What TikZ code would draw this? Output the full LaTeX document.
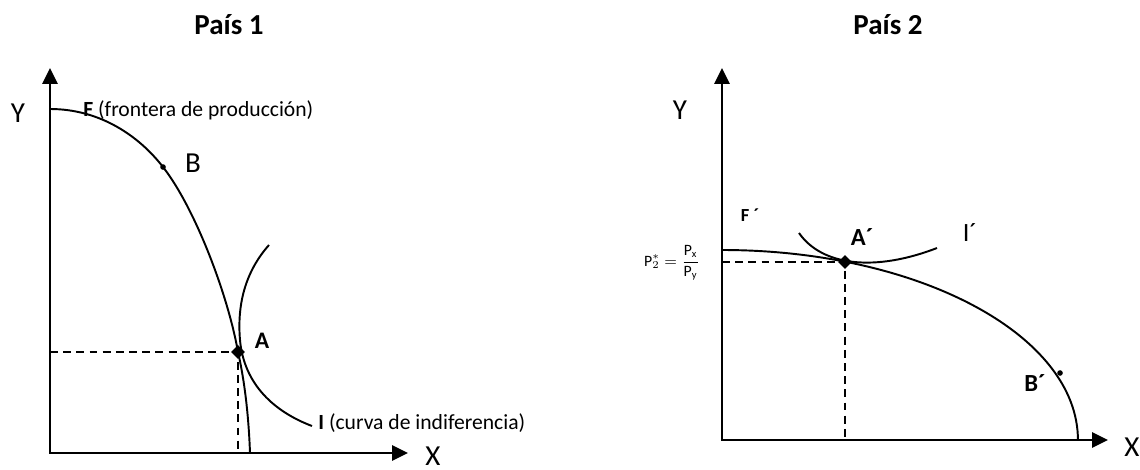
\documentclass[tikz,border=0pt]{standalone}
\usepackage{amsmath}
\usepackage{fontspec}
\setmainfont{Carlito}
\usetikzlibrary{arrows.meta,shapes.geometric}

\begin{document}
\begin{tikzpicture}[x=0.02cm, y=-0.02cm,
  axis/.style={line width=1.5pt, {Triangle[width=8.5pt, length=9pt]}-{Triangle[width=8.5pt, length=9pt]}},
  curve/.style={line width=1.1pt},
  guide/.style={line width=1.1pt, dash pattern=on 4.5pt off 3pt},
  optv/.style={diamond, fill=black, inner sep=0pt, minimum size=8pt},
  dotv/.style={circle, fill=black, inner sep=0pt, minimum size=3.2pt},
  ttl/.style={font=\bfseries\fontsize{16.5}{18}\selectfont},
  axlbl/.style={font=\fontsize{16.5}{18}\selectfont, inner sep=0pt},
  lbl/.style={font=\fontsize{12.3}{14}\selectfont, anchor=west, inner sep=0pt},
  ptlbl/.style={font=\bfseries\fontsize{14}{16}\selectfont}
]
\useasboundingbox (0,0) rectangle (1140,470);

% País 1
\coordinate (o1) at (50,453);
\coordinate (y1) at (50,68);
\coordinate (x1) at (408,453);
\coordinate (f1s) at (50,109);
\coordinate (f1e) at (250,453);
\coordinate (pB1) at (163,167);
\coordinate (pA1) at (238,352);
\coordinate (ya1) at (50,352);
\coordinate (xa1) at (238,453);
\coordinate (i1s) at (269,245);
\coordinate (i1e) at (312,426);

\draw[axis] (y1) -- (o1) -- (x1);
\draw[curve] (f1s) .. controls (100,109) and (139,136) .. (pB1)
  .. controls (195,208) and (228,295) .. (pA1)
  .. controls (246,387) and (249,425) .. (f1e);
\draw[curve] (i1s) .. controls (245,272) and (237,305) .. (240,340)
  .. controls (244,385) and (275,412) .. (i1e);
\draw[guide] (ya1) -- (pA1) -- (xa1);
\node[optv] (A1) at (pA1) {};
\node[dotv] (B1) at (pB1) {};

\node[ttl] (t1) at (229,25) {País 1};
\node[axlbl] (ly1) at (18,113) {Y};
\node[axlbl] (lx1) at (433,456) {X};
\node[lbl] (lf1) at (83,110) {\textbf{F} (frontera de producción)};
\node[axlbl] (lb1) at (193,163) {B};
\node[font=\bfseries\fontsize{13.5}{15}\selectfont] (la1) at (262,341) {A};
\node[lbl] (li1) at (318,423) {\textbf{I} (curva de indiferencia)};

% País 2
\coordinate (o2) at (722,440);
\coordinate (y2) at (722,68);
\coordinate (x2) at (1108,440);
\coordinate (f2s) at (722,250);
\coordinate (pA2) at (845,262);
\coordinate (pB2) at (1060,373);
\coordinate (ya2) at (722,262);
\coordinate (xa2) at (845,440);
\coordinate (i2s) at (799,233);
\coordinate (i2e) at (937,248);

\draw[axis] (y2) -- (o2) -- (x2);
\draw[curve] (f2s) arc[start angle=90, end angle=0, x radius=7.12cm, y radius=3.8cm];
\draw[curve] (i2s) .. controls (822,266) and (875,272) .. (i2e);
\draw[guide] (ya2) -- (pA2) -- (xa2);
\node[optv] (A2) at (pA2) {};
\node[dotv] (B2) at (pB2) {};

\node[ttl] (t2) at (888,25) {País 2};
\node[axlbl] (ly2) at (680,110) {Y};
\node[axlbl] (lx2) at (1132,447) {X};
\node[font=\bfseries\fontsize{10.5}{12}\selectfont] (lf2) at (750,215) {F ´};
\node[ptlbl] (la2) at (862,237) {A´};
\node[ptlbl] (lb2) at (1035,383) {B´};
\node[font=\fontsize{15}{17}\selectfont] (li2) at (970,232) {I´};
\node[font=\fontsize{9}{10}\selectfont, anchor=east, inner sep=0pt] (lp2) at (700,263)
  {$\mathrm{P}_2^{*}=\dfrac{\mathrm{P_x}}{\mathrm{P_y}}$};

\end{tikzpicture}
\end{document}
